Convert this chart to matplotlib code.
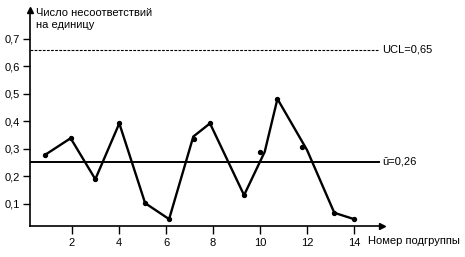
import matplotlib
matplotlib.use("Agg")
import matplotlib.pyplot as plt

plt.rcParams["font.family"] = ["Liberation Sans", "DejaVu Sans"]

# subgroup points (dots) and drawn polyline vertices
dot_x = [0.86, 1.94, 2.99, 4.01, 5.11, 6.13, 7.19, 7.87, 9.32, 10.0, 10.74, 11.77, 13.16, 14.0]
dot_u = [0.279, 0.339, 0.19, 0.393, 0.103, 0.045, 0.335, 0.393, 0.132, 0.288, 0.482, 0.306, 0.068, 0.045]
line_x = [0.86, 1.94, 2.99, 4.01, 5.11, 6.13, 7.16, 7.87, 9.32, 10.2, 10.74, 12.0, 13.16, 14.0]
line_u = [0.279, 0.339, 0.19, 0.393, 0.103, 0.045, 0.345, 0.393, 0.132, 0.29, 0.482, 0.296, 0.068, 0.045]

ucl = 0.66
center = 0.253
ucl_label = "UCL=0,65"
center_label = "ū=0,26"
y_ticks = [0.1, 0.2, 0.3, 0.4, 0.5, 0.6, 0.7]
y_ticklabels = ["0,1", "0,2", "0,3", "0,4", "0,5", "0,6", "0,7"]
x_ticks = [2, 4, 6, 8, 10, 12, 14]
y_title = "Число несоответствий\nна единицу"
x_title = "Номер подгруппы"

fs = 8

fig = plt.figure(figsize=(4.65, 2.57), dpi=100)
ax = fig.add_axes([30 / 465, 31 / 257, 352 / 465, 216 / 257])
ax.set_xlim(0.21, 15.19)
ax.set_ylim(0.02, 0.805)

ax.plot(line_x, line_u, color="black", lw=1.7, solid_joinstyle="miter")
ax.scatter(dot_x, dot_u, s=8, color="black", zorder=3)

ax.axhline(ucl, xmin=0, xmax=(15.0 - 0.21) / (15.19 - 0.21), color="black", lw=0.8, ls=(0, (2.5, 1.2)))
ax.axhline(center, xmin=0, xmax=(15.05 - 0.21) / (15.19 - 0.21), color="black", lw=1.4)
ax.text(15.2, ucl, ucl_label, fontsize=fs, va="center", ha="left", clip_on=False)
ax.text(15.2, center, center_label, fontsize=fs, va="center", ha="left", clip_on=False)

for s in ["top", "right"]:
    ax.spines[s].set_visible(False)
for s in ["left", "bottom"]:
    ax.spines[s].set_linewidth(1.2)

ax.set_yticks(y_ticks)
ax.set_yticklabels(y_ticklabels, fontsize=fs)
ax.set_xticks(x_ticks)
ax.set_xticklabels([str(t) for t in x_ticks], fontsize=fs)
ax.tick_params(axis="y", direction="out", length=5, width=1.0, pad=2)
ax.tick_params(axis="x", direction="out", length=6, width=1.0, pad=3)

# axis arrows
ax.plot(1, 0, ">", color="black", ms=4.5, transform=ax.transAxes, clip_on=False)
ax.plot(0, 1, "^", color="black", ms=4.5, transform=ax.transAxes, clip_on=False)

fig.text(36 / 465, 1 - 8 / 257, y_title, fontsize=fs, va="top", ha="left", linespacing=1.2)
fig.text(368 / 465, 1 - 241 / 257, x_title, fontsize=fs, va="center", ha="left")

fig.savefig("out.png", dpi=100)
